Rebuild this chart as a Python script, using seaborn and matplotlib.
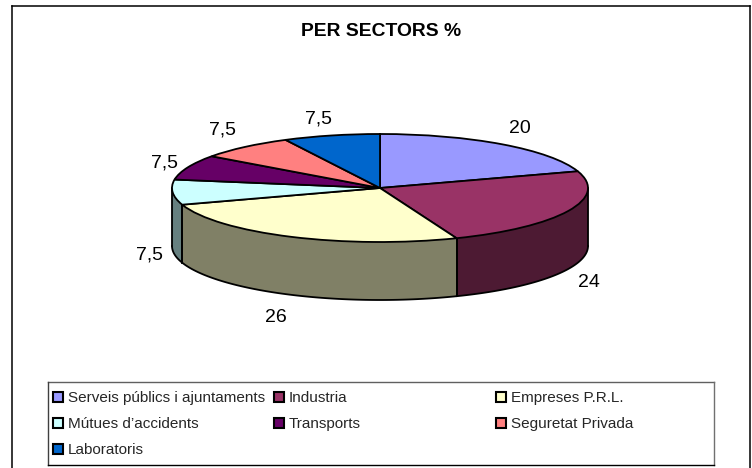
import numpy as np
import matplotlib.pyplot as plt
from matplotlib.lines import Line2D
from matplotlib.patches import Patch
import seaborn as sns

title = 'PER SECTORS %'
sectors = ['Serveis públics i ajuntaments', 'Industria', 'Empreses P.R.L.',
           'Mútues d\u2019accidents', 'Transports', 'Seguretat Privada', 'Laboratoris']
values = [20, 24, 26, 7.5, 7.5, 7.5, 7.5]
value_labels = ['20', '24', '26', '7,5', '7,5', '7,5', '7,5']
colors = ['#9999FF', '#993366', '#FFFFCC', '#CCFFFF', '#660066', '#FF8080', '#0066CC']

# pixel offsets of the value labels from the rim
label_offsets = [(18, 16), (21, -14), (-16, -23), (-23, -5), (-23, 4), (-22, 17), (-13, 16)]

W, H = 752, 468
CX, CY, RX, RY, DEPTH = 380, 188, 208, 54, 58
LW = 1.3

sns.set_theme(style='white')
plt.rcParams['font.family'] = ['Liberation Sans', 'DejaVu Sans']
palette = sns.color_palette(colors)
dark = [tuple(0.5 * c for c in p) for p in palette]

fig = plt.figure(figsize=(W / 100, H / 100), dpi=100)
ax = fig.add_axes([0, 0, 1, 1])
ax.pie(values, colors=palette, startangle=90, counterclock=False, radius=1,
       wedgeprops={'edgecolor': 'black', 'linewidth': LW, 'zorder': 3})
ax.set_aspect('auto')
ax.set_xlim(-CX / RX, (W - CX) / RX)
ax.set_ylim((CY - H) / RY, CY / RY)
ax.axis('off')

depth = DEPTH / RY
ends = np.cumsum(values) / np.sum(values) * 360
starts = np.concatenate(([0], ends[:-1]))

# side wall of the disc, only the front half can be seen
for a, b, c in zip(starts, ends, dark):
    a, b = max(a, 90), min(b, 270)
    if a >= b:
        continue
    th = np.radians(np.linspace(a, b, 100))
    x, y = np.sin(th), np.cos(th)
    ax.fill_between(x, y, y - depth, facecolor=c, edgecolor='none', zorder=1)
    ax.plot(x, y - depth, color='black', lw=LW, zorder=2)
    ax.plot([x[0], x[0]], [y[0], y[0] - depth], color='black', lw=LW, zorder=2)
    ax.plot([x[-1], x[-1]], [y[-1], y[-1] - depth], color='black', lw=LW, zorder=2)

# value labels
for a, b, txt, off in zip(starts, ends, value_labels, label_offsets):
    th = np.radians((a + b) / 2)
    x, y = np.sin(th), np.cos(th)
    if np.cos(th) < 0 and off[1] < 0:
        y -= depth
    ax.annotate(txt, (x, y), xytext=(off[0] * 0.72, off[1] * 0.72), textcoords='offset points',
                ha='center', va='center', fontsize=14, color='black', zorder=5)

fig.text(381 / W, 1 - 31 / H, title, ha='center', va='center', fontsize=13.9,
         fontweight='bold', color='black')


def frame_line(x0, y0, x1, y1, color, lw):
    fig.add_artist(Line2D([x0 / W, x1 / W], [1 - y0 / H, 1 - y1 / H], color=color, lw=lw,
                          transform=fig.transFigure, solid_capstyle='projecting'))


# outer chart frame runs off the bottom of the picture
frame_line(11.5, 5.5, 750, 5.5, 'black', 1.1)
frame_line(11.5, 5.5, 11.5, H, 'black', 1.1)
frame_line(750, 5.5, 750, H, 'black', 1.1)

# legend frame
frame_line(47.5, 382, 714, 382, '#606060', 1)
frame_line(714, 382, 714, 465, '#707070', 1)
frame_line(47.5, 382, 47.5, 465, '#404040', 1)
frame_line(47.5, 465, 714, 465, 'black', 1)

# Excel lays the legend on an even grid, so one legend per column
handles = [Patch(facecolor=c, edgecolor='black', linewidth=1.5) for c in palette]
for col, left in enumerate([47, 268, 490]):
    idx = list(range(col, len(sectors), 3))
    leg = fig.legend([handles[i] for i in idx], [sectors[i] for i in idx],
                     loc='upper left', bbox_to_anchor=(left / W, 1 - 385 / H),
                     frameon=False, fontsize=11, handlelength=0.62, handleheight=0.62,
                     handletextpad=0.35, labelspacing=0.79, borderpad=0.4, borderaxespad=0)

fig.savefig('out.png', dpi=100)
